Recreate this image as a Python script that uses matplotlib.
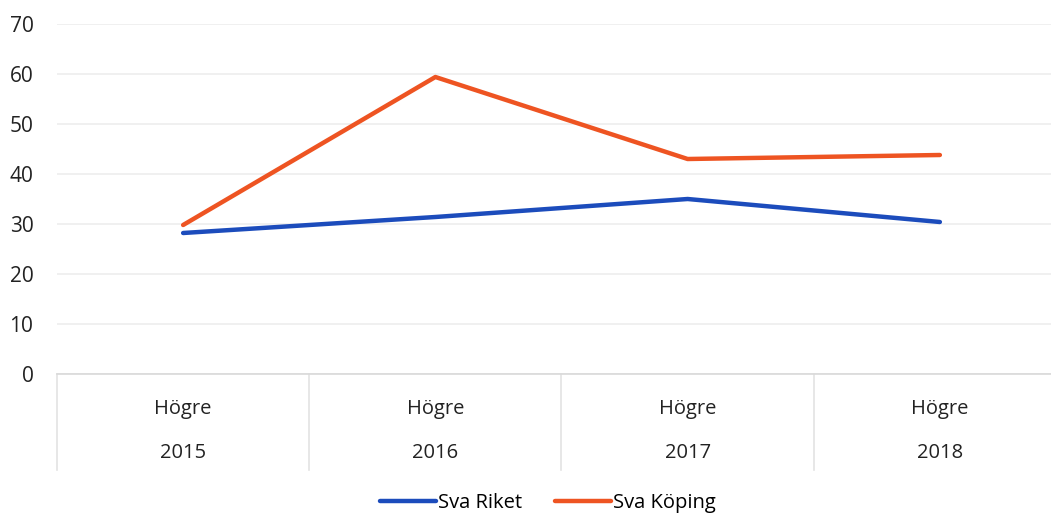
import matplotlib.pyplot as plt

plt.rcParams['font.family'] = ['Open Sans', 'DejaVu Sans']

# data
years = ['2015', '2016', '2017', '2018']
level = ['Högre', 'Högre', 'Högre', 'Högre']
sva_riket = [28.2, 31.4, 35.0, 30.4]
sva_koping = [29.8, 59.4, 43.0, 43.8]

blue = '#1C4CBC'
orange = '#EE5422'

fig = plt.figure(figsize=(10.51, 5.13), dpi=100)
W, H = 1051, 513
ax = fig.add_axes([57 / W, 1 - 374 / H, (1066 - 57) / W, (374 - 24) / H])

x = list(range(len(years)))
ax.plot(x, sva_riket, color=blue, lw=3.2, solid_capstyle='round', label='Sva Riket', zorder=3)
ax.plot(x, sva_koping, color=orange, lw=3.2, solid_capstyle='round', label='Sva Köping', zorder=3)

ax.set_xlim(-0.5, len(years) - 0.5)
ax.set_ylim(0, 70)
ax.set_yticks(range(0, 71, 10))
ax.set_xticks([])
for s in ['top', 'right', 'left']:
    ax.spines[s].set_visible(False)
ax.spines['bottom'].set_color('#D9D9D9')
ax.spines['bottom'].set_linewidth(1.2)
ax.yaxis.grid(True, color='#EDEDED', lw=1.2)
ax.set_axisbelow(True)
ax.tick_params(axis='y', length=0, labelsize=15, pad=17, labelcolor='#222222')

# two-level category axis
trans = ax.get_xaxis_transform()
for i in x:
    ax.text(i, -0.10, level[i], transform=trans, ha='center', va='center', fontsize=14.5, color='#222222')
    ax.text(i, -0.225, years[i], transform=trans, ha='center', va='center', fontsize=14.5, color='#222222')
for b in [-0.5, 0.5, 1.5, 2.5, 3.5]:
    ax.plot([b, b], [0, -0.275], transform=trans, color='#E3E3E3', lw=1.2, clip_on=False)

fig.legend(loc='center', bbox_to_anchor=(548 / W, 1 - 503 / H), ncol=2, frameon=False,
           fontsize=14.5, handlelength=2.8, handletextpad=0.1, columnspacing=1.6)

plt.savefig('out.png', dpi=100)
